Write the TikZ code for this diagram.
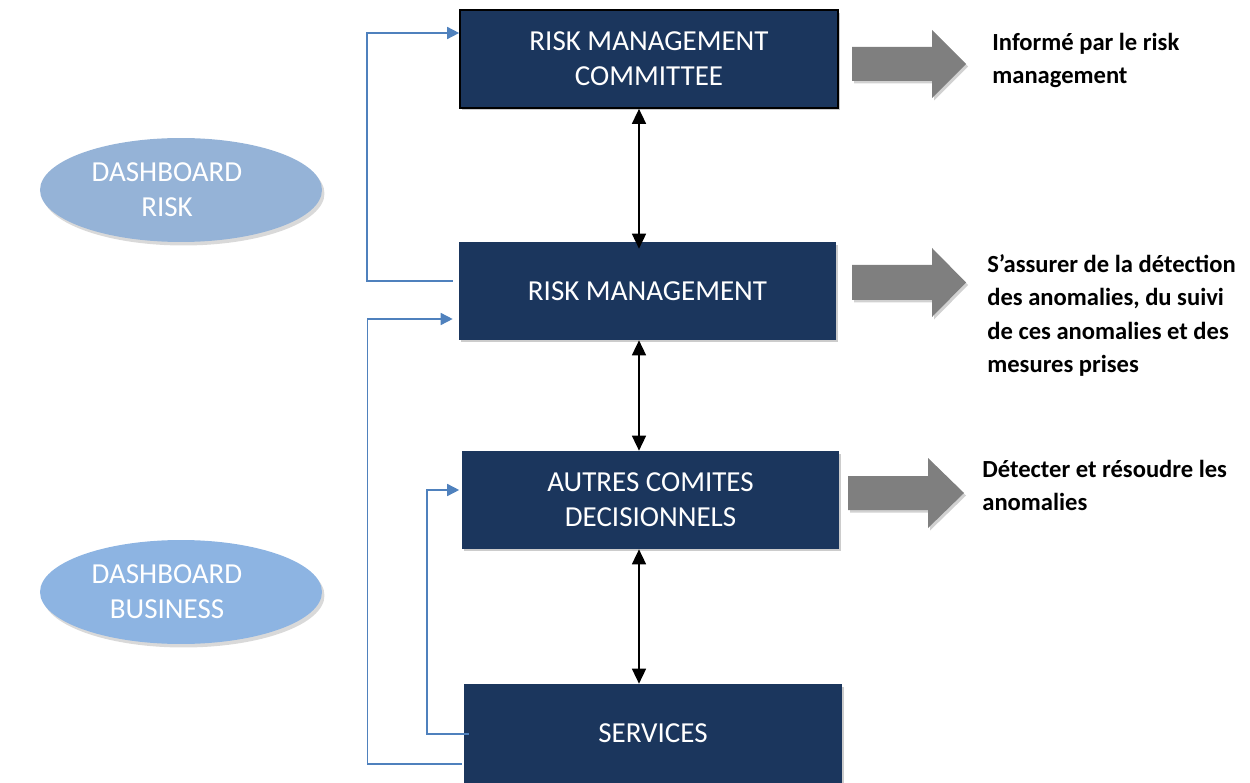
\documentclass[tikz,border=0pt]{standalone}
\usepackage{fontspec}
\setmainfont{Carlito}
\usetikzlibrary{shapes.geometric,arrows.meta,calc,shadows}
\definecolor{navy}{HTML}{1B365D}
\definecolor{ellA}{HTML}{95B3D7}
\definecolor{ellB}{HTML}{8DB4E2}
\definecolor{conn}{HTML}{4F81BD}
\definecolor{blockgray}{HTML}{7F7F7F}
\begin{document}
\begin{tikzpicture}[x=0.02cm,y=-0.02cm,
  box/.style={fill=navy, text=white, minimum width=7.56cm, minimum height=1.96cm,
    inner sep=0pt, align=center, font=\fontsize{16.5}{20}\selectfont,
    drop shadow={shadow xshift=0.04cm, shadow yshift=-0.05cm, opacity=0.2, fill=black}},
  ell/.style={ellipse, minimum width=5.64cm, minimum height=2.08cm, inner sep=0pt,
    text=white, align=center, font=\fontsize{16.5}{20}\selectfont,
    drop shadow={shadow xshift=0.05cm, shadow yshift=-0.07cm, opacity=0.15, fill=black}},
  conn/.style={draw=conn, line width=0.9pt},
  connarrow/.style={conn, -{Triangle[length=0.24cm,width=0.24cm]}},
  dbl/.style={line width=0.9pt, {Triangle[length=0.3cm,width=0.28cm]}-{Triangle[length=0.3cm,width=0.28cm]}},
  blockarrow/.style={fill=blockgray, drop shadow={shadow xshift=0.04cm, shadow yshift=-0.05cm, opacity=0.18, fill=black}},
  desc/.style={font=\bfseries\fontsize{14}{19}\selectfont, align=left, anchor=north west, inner sep=0pt}
]
\useasboundingbox (0,0) rectangle (1250,783);

% boxes
\node[box, draw=black, line width=1pt] (rmc) at (649,59) {RISK MANAGEMENT\\COMMITTEE};
\node[box, minimum width=7.54cm] (rm) at (647.5,291) {RISK MANAGEMENT};
\node[box] (acd) at (650.5,500) {AUTRES COMITES\\DECISIONNELS};
\node[box, minimum height=1.98cm] (srv) at (653,733.5) {SERVICES};

% ellipses
\node[ell, fill=ellA] (dr) at (181,190) {DASHBOARD\hspace*{0.56cm}\\RISK\hspace*{0.56cm}};
\node[ell, fill=ellB] (db) at (181,592) {DASHBOARD\hspace*{0.56cm}\\BUSINESS\hspace*{0.56cm}};

% vertical double arrows
\coordinate (ax) at (639,0);
\draw[dbl] (rmc.south -| ax) -- ([yshift=-4]rm.north -| ax);
\draw[dbl] (rm.south -| ax) -- (acd.north -| ax);
\draw[dbl] (acd.south -| ax) -- (srv.north -| ax);

% blue feedback connectors
\draw[connarrow] ($(rm.west)+(-6,-10)$) -| ($(rmc.west)+(-92,-26)$) -- ($(rmc.west)+(0,-26)$);
\draw[connarrow] ($(srv.west)+(-2,30.5)$) -| ($(rm.west)+(-91,28)$) -- ($(rm.west)+(-6,28)$);
\draw[connarrow] ($(srv.west)+(5,0.5)$) -| ($(acd.west)+(-34,-10)$) -- ($(acd.west)+(-2,-10)$);

% gray block arrows
\fill[blockarrow] (852,47) -- (932,47) -- (932,30) -- (966,64) -- (932,98) -- (932,81) -- (852,81) -- cycle;
\fill[blockarrow] (852,265) -- (932,265) -- (932,248) -- (966,282.5) -- (932,317) -- (932,300) -- (852,300) -- cycle;
\fill[blockarrow] (848,476) -- (928,476) -- (928,458) -- (964,493) -- (928,528) -- (928,510) -- (848,510) -- cycle;

% descriptions
\node[desc] (t1) at (992,33) {Informé par le risk\\management};
\node[desc] (t2) at (987,254) {S’assurer de la détection\\des anomalies, du suivi\\de ces anomalies et des\\mesures prises};
\node[desc] (t3) at (982,460) {Détecter et résoudre les\\anomalies};
\end{tikzpicture}
\end{document}
